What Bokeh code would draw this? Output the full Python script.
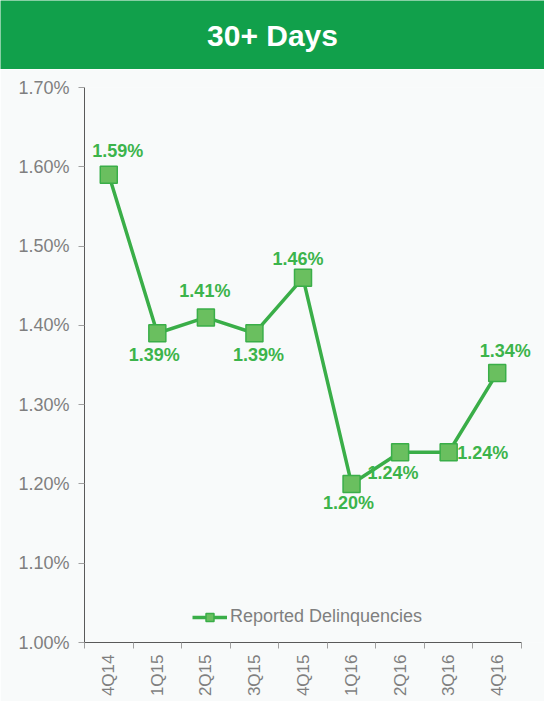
import math
from bokeh.plotting import figure
from bokeh.layouts import column
from bokeh.models import (ColumnDataSource, FixedTicker, PrintfTickFormatter,
                          Range1d, Legend, LegendItem, LabelSet)
from bokeh.core.properties import value
from bokeh.embed import file_html
from bokeh.resources import INLINE

title_text = "30+ Days"
series_name = "Reported Delinquencies"
quarters = ["4Q14", "1Q15", "2Q15", "3Q15", "4Q15", "1Q16", "2Q16", "3Q16", "4Q16"]
delinquency = [1.59, 1.39, 1.41, 1.39, 1.46, 1.20, 1.24, 1.24, 1.34]
y_ticks = [1.00, 1.10, 1.20, 1.30, 1.40, 1.50, 1.60, 1.70]

# label placement (screen pixels, positive = up)
label_dx = [9, -3, -1, 4, -5, -3, -7, 34, 8]
label_dy = [24, -22, 26, -22, 19, -19, -21, -1, 22]

GREEN = "#11a04b"
BG = "#f8fafa"
LINE = "#3aae48"
FILL = "#6abf5f"
LABEL = "#3cb44b"
GREY = "#7f7f7f"
FONT = "Liberation Sans"

W = 544
AXIS_PX = 437          # drawn length of the x axis
FRAME_PX = W - 84      # frame reaches the right edge so labels are not clipped

# header
hdr = figure(width=W, height=69, x_range=(0, 1), y_range=(0, 1),
             output_backend="svg", toolbar_location=None,
             min_border=0, background_fill_color=GREEN,
             border_fill_color=GREEN, outline_line_color=None,
             frame_align=False)
hdr.axis.visible = False
hdr.grid.visible = False
hdr.text(x=[0.5], y=[0.5], text=[title_text], text_align="center",
         text_baseline="middle", text_color="white",
         text_font=value(FONT), text_font_style="bold", text_font_size="30px")

# main chart
n = len(quarters)
xs = [i + 0.5 for i in range(n)]
src = ColumnDataSource(dict(x=xs, y=delinquency,
                            lab=["%.2f%%" % v for v in delinquency],
                            dx=label_dx, dy=label_dy))

p = figure(width=W, height=632, output_backend="svg", toolbar_location=None,
           x_range=Range1d(0, n * FRAME_PX / AXIS_PX), y_range=Range1d(1.0, 1.7),
           min_border_left=84, min_border_right=0, min_border_top=18,
           min_border_bottom=59,
           background_fill_color=BG, border_fill_color=BG,
           outline_line_color=None, frame_align=False)
p.grid.visible = False

ln = p.line("x", "y", source=src, line_color=LINE, line_width=3.5)
sq = p.scatter("x", "y", source=src, marker="square", size=17,
               fill_color=FILL, line_color=LINE, line_width=1.5)
labels = LabelSet(x="x", y="y", text="lab", source=src,
                  x_offset="dx", y_offset="dy",
                  text_align="center", text_baseline="middle",
                  text_color=LABEL, text_font=value(FONT),
                  text_font_style="bold", text_font_size="18px")
p.add_layout(labels)

# y axis
p.yaxis.ticker = FixedTicker(ticks=y_ticks)
p.yaxis.formatter = PrintfTickFormatter(format="%.2f%%")
p.yaxis.major_label_text_font = FONT
p.yaxis.major_label_text_font_size = "18px"
p.yaxis.major_label_text_color = GREY
p.yaxis.axis_line_color = "#595959"
p.yaxis.major_tick_line_color = "#a0a0a0"
p.yaxis.major_tick_in = 0
p.yaxis.major_tick_out = 6
p.yaxis.minor_tick_line_color = None
p.yaxis.major_label_standoff = 9

# x axis: labels at centers, tick marks at boundaries (minor ticks)
p.xaxis.bounds = (0, n)
p.xaxis.ticker = FixedTicker(ticks=xs, minor_ticks=list(range(n + 1)))
p.xaxis.major_label_overrides = {x: q for x, q in zip(xs, quarters)}
p.xaxis.major_label_orientation = math.pi / 2
p.xaxis.major_label_text_font = FONT
p.xaxis.major_label_text_font_size = "17px"
p.xaxis.major_label_text_color = GREY
p.xaxis.axis_line_color = "#595959"
p.xaxis.major_tick_line_color = None
p.xaxis.major_tick_out = 6
p.xaxis.major_tick_in = 0
p.xaxis.minor_tick_line_color = "#a0a0a0"
p.xaxis.minor_tick_in = 0
p.xaxis.minor_tick_out = 6
p.xaxis.major_label_standoff = 6

legend = Legend(items=[LegendItem(label=series_name, renderers=[ln, sq])],
                location=(108, 15), orientation="horizontal",
                background_fill_alpha=0, border_line_color=None,
                label_text_font=FONT, label_text_font_size="18px",
                label_text_color=GREY, glyph_width=35, glyph_height=20,
                label_height=20, label_standoff=3, padding=7, margin=10)
p.add_layout(legend)

page = column(hdr, p, spacing=0)
open("out.html", "w").write(file_html(page, INLINE))
